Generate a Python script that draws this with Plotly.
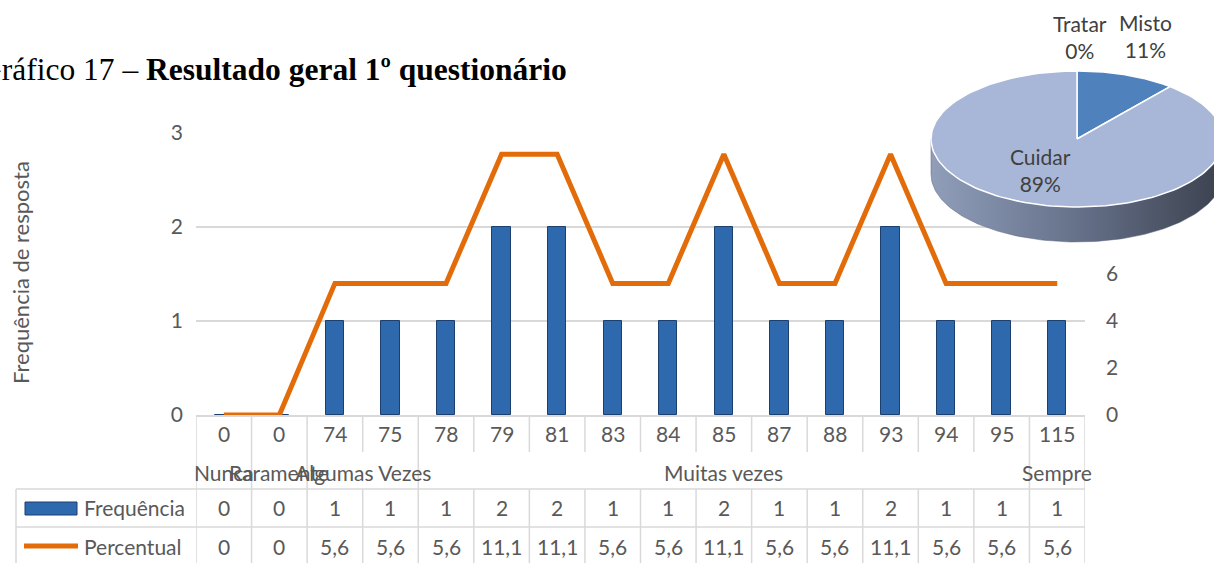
import numpy as np
import plotly.graph_objects as go

# dados do gráfico
pontuacao = ["0", "0", "74", "75", "78", "79", "81", "83", "84", "85", "87", "88", "93", "94", "95", "115"]
frequencia = [0, 0, 1, 1, 1, 2, 2, 1, 1, 2, 1, 1, 2, 1, 1, 1]
percentual = [0, 0, 5.6, 5.6, 5.6, 11.1, 11.1, 5.6, 5.6, 11.1, 5.6, 5.6, 11.1, 5.6, 5.6, 5.6]
grupos = ["Nunca", "Raramente", "Algumas Vezes", "Muitas vezes", "Sempre"]
tamanho_grupos = [1, 1, 2, 11, 1]
pie_labels = ["Tratar", "Misto", "Cuidar"]
pie_values = [0, 11, 89]

W, H = 1214, 563
GRAY = "#595959"
LINE = "#D9D9D9"
BLUE = "#2E69AE"
ORANGE = "#E36C0A"
FONT = "Lato"
FS = 21


def py(v):
    # pixel -> paper (vertical)
    return 1 - v / H


def px(v):
    return v / W


def fmt(v):
    return "0" if v == 0 else f"{v:.1f}".replace(".", ",")


def txt(x, y, text, xref="paper", **kw):
    d = dict(x=x, y=y, xref=xref, yref="paper", text=text, showarrow=False,
             xanchor="center", yanchor="middle", font=dict(size=FS, color=GRAY, family=FONT))
    d.update(kw)
    return d


idx = list(range(len(pontuacao)))

fig = go.Figure()

fig.add_trace(go.Bar(
    x=idx, y=frequencia, width=0.33, name="Frequência",
    marker=dict(color=BLUE, line=dict(color="#1C3F6E", width=1)),
))
fig.add_trace(go.Scatter(
    x=idx, y=percentual, yaxis="y2", mode="lines", name="Percentual",
    line=dict(color=ORANGE, width=5),
))

# pizza "3D" desenhada a partir dos valores (eixos em pixels)
cx, cy, a, b, depth = 1077, 139, 146, 68, 35
total = sum(pie_values)
bounds = np.cumsum([0] + pie_values) / total * 2 * np.pi

# lateral (metade da frente)
t = np.linspace(np.pi / 2, 3 * np.pi / 2, 120)
sx = np.concatenate([cx + a * np.sin(t), (cx + a * np.sin(t))[::-1]])
sy = np.concatenate([cy - b * np.cos(t), (cy - b * np.cos(t) + depth)[::-1]])
fig.add_trace(go.Scatter(
    x=sx, y=sy, xaxis="x3", yaxis="y3", fill="toself", mode="lines",
    line=dict(color="#59637A", width=0.5),
    fillgradient=dict(type="horizontal", colorscale=[[0, "#909EBA"], [0.5, "#66718A"], [1, "#3B414E"]]),
    hoverinfo="skip", showlegend=False,
))

pie_colors = ["#C0504D", "#4F81BD", "#A8B7D7"]
for i, lab in enumerate(pie_labels):
    if pie_values[i] == 0:
        continue
    tt = np.linspace(bounds[i], bounds[i + 1], 150)
    xs = np.concatenate([[cx], cx + a * np.sin(tt), [cx]])
    ys = np.concatenate([[cy], cy - b * np.cos(tt), [cy]])
    fig.add_trace(go.Scatter(
        x=xs, y=ys, xaxis="x3", yaxis="y3", fill="toself", mode="lines",
        fillcolor=pie_colors[i], line=dict(color="white", width=1.5),
        hoverinfo="skip", showlegend=False,
    ))

ann = []
# rótulos da pizza
pie_pos = {"Tratar": (1080, 37), "Misto": (1145, 36), "Cuidar": (1040, 170)}
for lab, v in zip(pie_labels, pie_values):
    x0, y0 = pie_pos[lab]
    ann.append(txt(px(x0), py(y0), f"{lab}<br>{v}%", font=dict(size=FS, color="#404040", family=FONT)))

# título
ann.append(txt(-23 / W, py(70), "Gráfico 17 – <b>Resultado geral 1º questionário</b>", xanchor="left",
               font=dict(family="Liberation Serif", size=31.5, color="black")))

# título do eixo
ann.append(txt(px(20), py(273), "Frequência de resposta", textangle=-90,
               font=dict(size=22, color=GRAY, family=FONT)))

# tabela de dados
for i in idx:
    ann.append(txt(i, py(433), pontuacao[i], xref="x"))
    ann.append(txt(i, py(507), str(frequencia[i]), xref="x"))
    ann.append(txt(i, py(546), fmt(percentual[i]), xref="x"))

starts = np.cumsum([0] + tamanho_grupos)
for g, s, n in zip(grupos, starts[:-1], tamanho_grupos):
    ann.append(txt(s + n / 2 - 0.5, py(472), g, xref="x"))

ann.append(txt(px(82), py(507), "Frequência", xanchor="left"))
ann.append(txt(px(82), py(546), "Percentual", xanchor="left"))

shapes = []
group_bounds = set(starts.tolist())
for k in range(len(idx) + 1):
    if k in group_bounds:
        shapes.append(dict(type="line", xref="x", yref="paper", x0=k - 0.5, x1=k - 0.5,
                           y0=py(415), y1=py(563), line=dict(color=LINE, width=1.5)))
    else:
        shapes.append(dict(type="line", xref="x", yref="paper", x0=k - 0.5, x1=k - 0.5,
                           y0=py(415), y1=py(452), line=dict(color=LINE, width=1.5)))
        shapes.append(dict(type="line", xref="x", yref="paper", x0=k - 0.5, x1=k - 0.5,
                           y0=py(489), y1=py(563), line=dict(color=LINE, width=1.5)))
for yy in (489, 527):
    shapes.append(dict(type="line", xref="paper", yref="paper", x0=px(16), x1=px(1085),
                       y0=py(yy), y1=py(yy), line=dict(color=LINE, width=1.5)))
shapes.append(dict(type="line", xref="paper", yref="paper", x0=px(16), x1=px(16),
                   y0=py(489), y1=py(563), line=dict(color=LINE, width=1.5)))
# chaves da legenda
shapes.append(dict(type="rect", xref="paper", yref="paper", x0=px(25), x1=px(77), y0=py(515), y1=py(502),
                   fillcolor=BLUE, line=dict(color="#1C3F6E", width=1)))
shapes.append(dict(type="line", xref="paper", yref="paper", x0=px(24), x1=px(78), y0=py(546), y1=py(546),
                   line=dict(color=ORANGE, width=5)))

fig.update_layout(
    width=W, height=H,
    margin=dict(l=0, r=0, t=0, b=0, autoexpand=False),
    paper_bgcolor="white", plot_bgcolor="rgba(0,0,0,0)",
    showlegend=False, bargap=0,
    font=dict(family=FONT, color=GRAY, size=FS),
    xaxis=dict(domain=[px(196), px(1085)], range=[-0.5, 15.5], showticklabels=False, ticks="",
               showgrid=False, zeroline=False, showline=True, linecolor=LINE, linewidth=1.5),
    yaxis=dict(domain=[py(415), py(133)], range=[0, 3], tickvals=[0, 1, 2, 3], gridcolor=LINE,
               gridwidth=1.5, zeroline=False, ticks="", ticklabelstandoff=12,
               tickfont=dict(size=FS, color=GRAY)),
    yaxis2=dict(overlaying="y", side="right", range=[0, 12], tickvals=[0, 2, 4, 6], showgrid=False,
                zeroline=False, ticks="", ticklabelstandoff=20, tickfont=dict(size=FS, color=GRAY)),
    xaxis3=dict(domain=[0, 1], range=[0, W], visible=False, anchor="y3"),
    yaxis3=dict(domain=[0, 1], range=[H, 0], visible=False, anchor="x3"),
    annotations=ann,
    shapes=shapes,
)

fig.write_html("out.html", config={"displayModeBar": False},
               post_script="document.body.style.margin='0';")
